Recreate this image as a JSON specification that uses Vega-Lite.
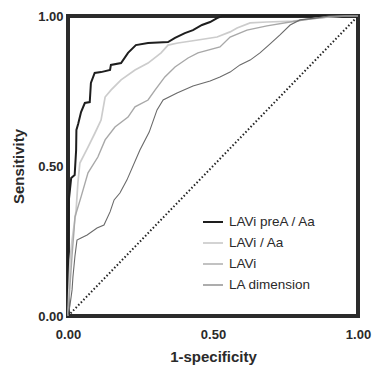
{
  "$schema": "https://vega.github.io/schema/vega-lite/v6.json",
  "width": 290,
  "height": 300,
  "autosize": {"type": "none"},
  "padding": {"left": 68, "top": 16, "right": 20, "bottom": 50},
  "background": "white",
  "config": {
    "view": {"stroke": "#2b2b2b", "strokeWidth": 4},
    "font": "Liberation Sans"
  },
  "datasets": {
    "roc": [
      {"curve": "LAVi preA / Aa", "i": 0, "fpr": 0, "sens": 0},
      {"curve": "LAVi preA / Aa", "i": 1, "fpr": 0, "sens": 0.19},
      {"curve": "LAVi preA / Aa", "i": 2, "fpr": 0.003, "sens": 0.387},
      {"curve": "LAVi preA / Aa", "i": 3, "fpr": 0.011, "sens": 0.46},
      {"curve": "LAVi preA / Aa", "i": 4, "fpr": 0.023, "sens": 0.47},
      {"curve": "LAVi preA / Aa", "i": 5, "fpr": 0.028, "sens": 0.553},
      {"curve": "LAVi preA / Aa", "i": 6, "fpr": 0.029, "sens": 0.62},
      {"curve": "LAVi preA / Aa", "i": 7, "fpr": 0.035, "sens": 0.64},
      {"curve": "LAVi preA / Aa", "i": 8, "fpr": 0.045, "sens": 0.68},
      {"curve": "LAVi preA / Aa", "i": 9, "fpr": 0.058, "sens": 0.71},
      {"curve": "LAVi preA / Aa", "i": 10, "fpr": 0.075, "sens": 0.713},
      {"curve": "LAVi preA / Aa", "i": 11, "fpr": 0.079, "sens": 0.777},
      {"curve": "LAVi preA / Aa", "i": 12, "fpr": 0.092, "sens": 0.81},
      {"curve": "LAVi preA / Aa", "i": 13, "fpr": 0.114, "sens": 0.813},
      {"curve": "LAVi preA / Aa", "i": 14, "fpr": 0.145, "sens": 0.82},
      {"curve": "LAVi preA / Aa", "i": 15, "fpr": 0.148, "sens": 0.837},
      {"curve": "LAVi preA / Aa", "i": 16, "fpr": 0.183, "sens": 0.843},
      {"curve": "LAVi preA / Aa", "i": 17, "fpr": 0.207, "sens": 0.877},
      {"curve": "LAVi preA / Aa", "i": 18, "fpr": 0.234, "sens": 0.903},
      {"curve": "LAVi preA / Aa", "i": 19, "fpr": 0.276, "sens": 0.91},
      {"curve": "LAVi preA / Aa", "i": 20, "fpr": 0.345, "sens": 0.913},
      {"curve": "LAVi preA / Aa", "i": 21, "fpr": 0.369, "sens": 0.927},
      {"curve": "LAVi preA / Aa", "i": 22, "fpr": 0.403, "sens": 0.943},
      {"curve": "LAVi preA / Aa", "i": 23, "fpr": 0.431, "sens": 0.953},
      {"curve": "LAVi preA / Aa", "i": 24, "fpr": 0.462, "sens": 0.97},
      {"curve": "LAVi preA / Aa", "i": 25, "fpr": 0.49, "sens": 0.98},
      {"curve": "LAVi preA / Aa", "i": 26, "fpr": 0.514, "sens": 0.993},
      {"curve": "LAVi preA / Aa", "i": 27, "fpr": 0.531, "sens": 1},
      {"curve": "LAVi preA / Aa", "i": 28, "fpr": 1, "sens": 1},

      {"curve": "LAVi / Aa", "i": 0, "fpr": 0, "sens": 0},
      {"curve": "LAVi / Aa", "i": 1, "fpr": 0.003, "sens": 0.087},
      {"curve": "LAVi / Aa", "i": 2, "fpr": 0.007, "sens": 0.187},
      {"curve": "LAVi / Aa", "i": 3, "fpr": 0.014, "sens": 0.253},
      {"curve": "LAVi / Aa", "i": 4, "fpr": 0.021, "sens": 0.303},
      {"curve": "LAVi / Aa", "i": 5, "fpr": 0.028, "sens": 0.353},
      {"curve": "LAVi / Aa", "i": 6, "fpr": 0.034, "sens": 0.443},
      {"curve": "LAVi / Aa", "i": 7, "fpr": 0.041, "sens": 0.51},
      {"curve": "LAVi / Aa", "i": 8, "fpr": 0.069, "sens": 0.563},
      {"curve": "LAVi / Aa", "i": 9, "fpr": 0.093, "sens": 0.61},
      {"curve": "LAVi / Aa", "i": 10, "fpr": 0.114, "sens": 0.653},
      {"curve": "LAVi / Aa", "i": 11, "fpr": 0.128, "sens": 0.73},
      {"curve": "LAVi / Aa", "i": 12, "fpr": 0.148, "sens": 0.753},
      {"curve": "LAVi / Aa", "i": 13, "fpr": 0.183, "sens": 0.787},
      {"curve": "LAVi / Aa", "i": 14, "fpr": 0.231, "sens": 0.82},
      {"curve": "LAVi / Aa", "i": 15, "fpr": 0.276, "sens": 0.843},
      {"curve": "LAVi / Aa", "i": 16, "fpr": 0.321, "sens": 0.877},
      {"curve": "LAVi / Aa", "i": 17, "fpr": 0.345, "sens": 0.903},
      {"curve": "LAVi / Aa", "i": 18, "fpr": 0.379, "sens": 0.91},
      {"curve": "LAVi / Aa", "i": 19, "fpr": 0.448, "sens": 0.92},
      {"curve": "LAVi / Aa", "i": 20, "fpr": 0.514, "sens": 0.93},
      {"curve": "LAVi / Aa", "i": 21, "fpr": 0.559, "sens": 0.947},
      {"curve": "LAVi / Aa", "i": 22, "fpr": 0.583, "sens": 0.96},
      {"curve": "LAVi / Aa", "i": 23, "fpr": 0.628, "sens": 0.977},
      {"curve": "LAVi / Aa", "i": 24, "fpr": 0.686, "sens": 0.98},
      {"curve": "LAVi / Aa", "i": 25, "fpr": 0.776, "sens": 0.983},
      {"curve": "LAVi / Aa", "i": 26, "fpr": 0.834, "sens": 0.99},
      {"curve": "LAVi / Aa", "i": 27, "fpr": 0.903, "sens": 0.997},
      {"curve": "LAVi / Aa", "i": 28, "fpr": 0.955, "sens": 1},
      {"curve": "LAVi / Aa", "i": 29, "fpr": 1, "sens": 1},

      {"curve": "LAVi", "i": 0, "fpr": 0, "sens": 0},
      {"curve": "LAVi", "i": 1, "fpr": 0.007, "sens": 0.103},
      {"curve": "LAVi", "i": 2, "fpr": 0.014, "sens": 0.203},
      {"curve": "LAVi", "i": 3, "fpr": 0.021, "sens": 0.287},
      {"curve": "LAVi", "i": 4, "fpr": 0.024, "sens": 0.33},
      {"curve": "LAVi", "i": 5, "fpr": 0.045, "sens": 0.397},
      {"curve": "LAVi", "i": 6, "fpr": 0.069, "sens": 0.477},
      {"curve": "LAVi", "i": 7, "fpr": 0.103, "sens": 0.53},
      {"curve": "LAVi", "i": 8, "fpr": 0.128, "sens": 0.587},
      {"curve": "LAVi", "i": 9, "fpr": 0.162, "sens": 0.63},
      {"curve": "LAVi", "i": 10, "fpr": 0.207, "sens": 0.663},
      {"curve": "LAVi", "i": 11, "fpr": 0.231, "sens": 0.697},
      {"curve": "LAVi", "i": 12, "fpr": 0.276, "sens": 0.72},
      {"curve": "LAVi", "i": 13, "fpr": 0.3, "sens": 0.753},
      {"curve": "LAVi", "i": 14, "fpr": 0.334, "sens": 0.797},
      {"curve": "LAVi", "i": 15, "fpr": 0.369, "sens": 0.83},
      {"curve": "LAVi", "i": 16, "fpr": 0.414, "sens": 0.86},
      {"curve": "LAVi", "i": 17, "fpr": 0.448, "sens": 0.877},
      {"curve": "LAVi", "i": 18, "fpr": 0.524, "sens": 0.897},
      {"curve": "LAVi", "i": 19, "fpr": 0.559, "sens": 0.93},
      {"curve": "LAVi", "i": 20, "fpr": 0.617, "sens": 0.953},
      {"curve": "LAVi", "i": 21, "fpr": 0.686, "sens": 0.967},
      {"curve": "LAVi", "i": 22, "fpr": 0.766, "sens": 0.98},
      {"curve": "LAVi", "i": 23, "fpr": 0.834, "sens": 0.99},
      {"curve": "LAVi", "i": 24, "fpr": 0.903, "sens": 0.997},
      {"curve": "LAVi", "i": 25, "fpr": 0.972, "sens": 1},
      {"curve": "LAVi", "i": 26, "fpr": 1, "sens": 1},

      {"curve": "LA dimension", "i": 0, "fpr": 0, "sens": 0},
      {"curve": "LA dimension", "i": 1, "fpr": 0.007, "sens": 0.037},
      {"curve": "LA dimension", "i": 2, "fpr": 0.014, "sens": 0.087},
      {"curve": "LA dimension", "i": 3, "fpr": 0.017, "sens": 0.13},
      {"curve": "LA dimension", "i": 4, "fpr": 0.024, "sens": 0.2},
      {"curve": "LA dimension", "i": 5, "fpr": 0.031, "sens": 0.253},
      {"curve": "LA dimension", "i": 6, "fpr": 0.045, "sens": 0.26},
      {"curve": "LA dimension", "i": 7, "fpr": 0.066, "sens": 0.27},
      {"curve": "LA dimension", "i": 8, "fpr": 0.1, "sens": 0.293},
      {"curve": "LA dimension", "i": 9, "fpr": 0.124, "sens": 0.303},
      {"curve": "LA dimension", "i": 10, "fpr": 0.145, "sens": 0.347},
      {"curve": "LA dimension", "i": 11, "fpr": 0.159, "sens": 0.387},
      {"curve": "LA dimension", "i": 12, "fpr": 0.179, "sens": 0.41},
      {"curve": "LA dimension", "i": 13, "fpr": 0.203, "sens": 0.453},
      {"curve": "LA dimension", "i": 14, "fpr": 0.248, "sens": 0.553},
      {"curve": "LA dimension", "i": 15, "fpr": 0.28, "sens": 0.613},
      {"curve": "LA dimension", "i": 16, "fpr": 0.307, "sens": 0.687},
      {"curve": "LA dimension", "i": 17, "fpr": 0.328, "sens": 0.72},
      {"curve": "LA dimension", "i": 18, "fpr": 0.376, "sens": 0.743},
      {"curve": "LA dimension", "i": 19, "fpr": 0.431, "sens": 0.767},
      {"curve": "LA dimension", "i": 20, "fpr": 0.49, "sens": 0.783},
      {"curve": "LA dimension", "i": 21, "fpr": 0.524, "sens": 0.797},
      {"curve": "LA dimension", "i": 22, "fpr": 0.559, "sens": 0.813},
      {"curve": "LA dimension", "i": 23, "fpr": 0.593, "sens": 0.837},
      {"curve": "LA dimension", "i": 24, "fpr": 0.628, "sens": 0.853},
      {"curve": "LA dimension", "i": 25, "fpr": 0.662, "sens": 0.877},
      {"curve": "LA dimension", "i": 26, "fpr": 0.697, "sens": 0.907},
      {"curve": "LA dimension", "i": 27, "fpr": 0.731, "sens": 0.937},
      {"curve": "LA dimension", "i": 28, "fpr": 0.766, "sens": 0.97},
      {"curve": "LA dimension", "i": 29, "fpr": 0.8, "sens": 0.987},
      {"curve": "LA dimension", "i": 30, "fpr": 0.852, "sens": 0.993},
      {"curve": "LA dimension", "i": 31, "fpr": 0.9, "sens": 1},
      {"curve": "LA dimension", "i": 32, "fpr": 1, "sens": 1}
    ],
    "diag": [
      {"fpr": 0, "sens": 0},
      {"fpr": 1, "sens": 1}
    ]
  },
  "layer": [
    {
      "data": {"name": "diag"},
      "mark": {"type": "line", "color": "#222222", "strokeWidth": 2, "strokeDash": [1.5, 2.2]},
      "encoding": {
        "x": {"field": "fpr", "type": "quantitative"},
        "y": {"field": "sens", "type": "quantitative"}
      }
    },
    {
      "data": {"name": "roc"},
      "mark": {"type": "line"},
      "encoding": {
        "x": {
          "field": "fpr", "type": "quantitative",
          "scale": {"domain": [0, 1], "nice": false},
          "axis": {
            "values": [0, 0.5, 1], "format": ".2f", "grid": false, "domain": false,
            "ticks": false, "tickSize": 0, "labelPadding": 12, "labelFlush": false,
            "labelFont": "Liberation Sans", "labelFontSize": 13, "labelFontWeight": "bold", "labelColor": "#2a2a2a",
            "title": "1-specificity", "titleFont": "Liberation Sans", "titleFontSize": 15, "titleFontWeight": "bold",
            "titleColor": "#2a2a2a", "titlePadding": 8
          }
        },
        "y": {
          "field": "sens", "type": "quantitative",
          "scale": {"domain": [0, 1], "nice": false},
          "axis": {
            "values": [0, 0.5, 1], "format": ".2f", "grid": false, "domain": false,
            "ticks": false, "tickSize": 0, "labelPadding": 5, "labelFlush": false,
            "labelFont": "Liberation Sans", "labelFontSize": 13, "labelFontWeight": "bold", "labelColor": "#2a2a2a",
            "title": "Sensitivity", "titleFont": "Liberation Sans", "titleFontSize": 15, "titleFontWeight": "bold",
            "titleColor": "#2a2a2a", "titlePadding": 11
          }
        },
        "order": {"field": "i", "type": "quantitative"},
        "color": {
          "field": "curve", "type": "nominal",
          "scale": {
            "domain": ["LAVi preA / Aa", "LAVi / Aa", "LAVi", "LA dimension"],
            "range": ["#1e1e1e", "#cccccc", "#a8a8a8", "#6a6a6a"]
          },
          "legend": {
            "title": null, "orient": "none", "legendX": 134, "legendY": 195,
            "symbolType": "stroke", "symbolSize": 400, "labelOffset": 5,
            "labelFont": "Liberation Sans", "labelFontSize": 13.5, "labelColor": "#2a2a2a",
            "rowPadding": 3
          }
        },
        "strokeWidth": {
          "field": "curve", "type": "nominal",
          "scale": {
            "domain": ["LAVi preA / Aa", "LAVi / Aa", "LAVi", "LA dimension"],
            "range": [2, 1.1, 1.1, 1.4]
          },
          "legend": null
        }
      }
    }
  ]
}
